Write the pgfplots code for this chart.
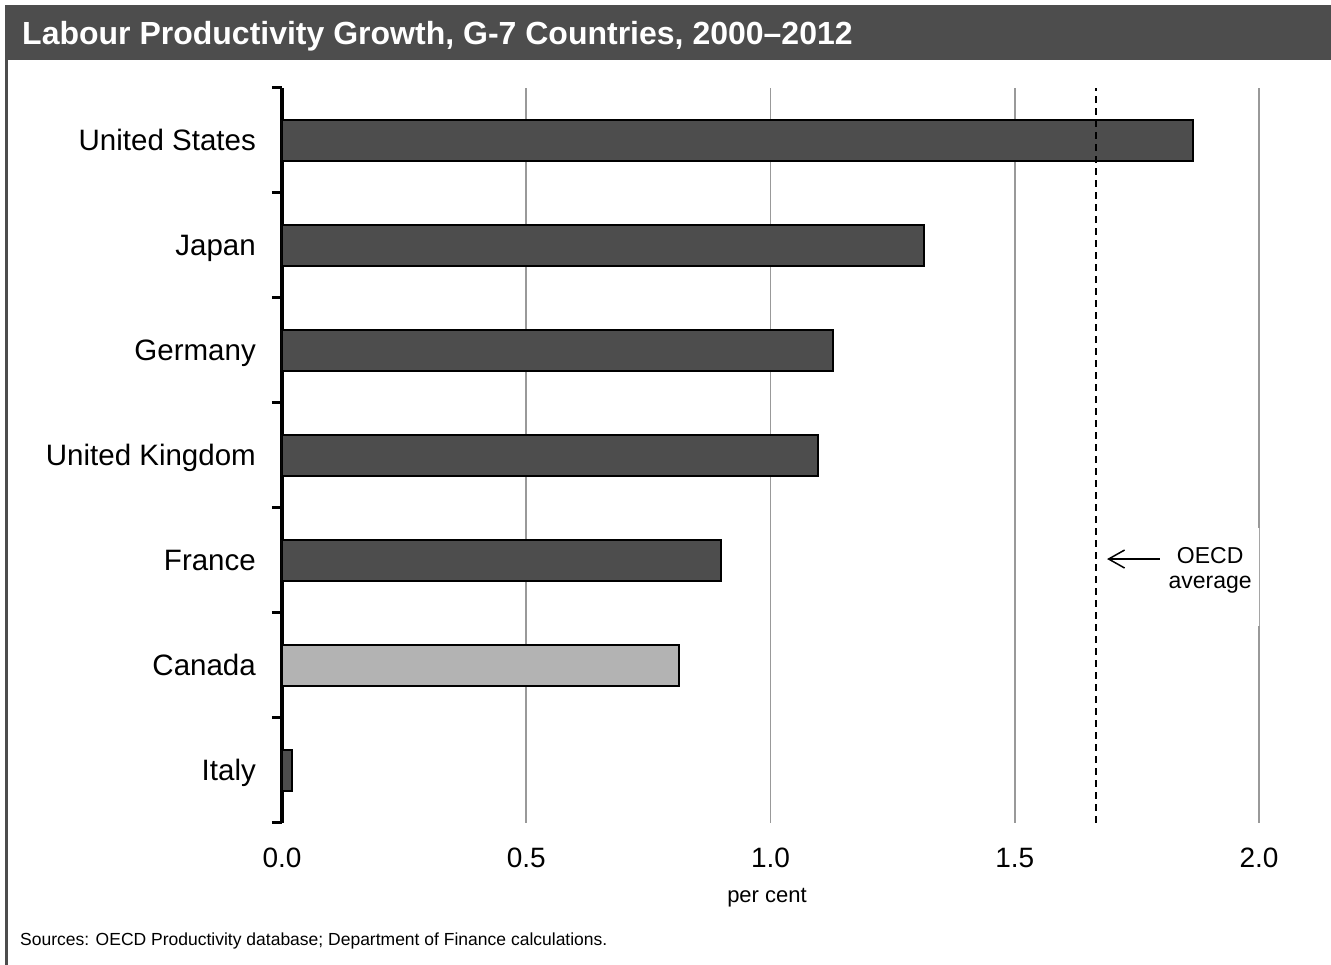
\documentclass[border=0pt]{standalone}
\usepackage{fontspec}
\setmainfont{Liberation Sans}
\usepackage{pgfplots}
\pgfplotsset{compat=1.18}
\usetikzlibrary{arrows.meta}
\definecolor{bardark}{HTML}{4D4D4D}
\definecolor{barlight}{HTML}{B3B3B3}
\definecolor{gridgray}{HTML}{999999}
\begin{document}
\begin{tikzpicture}
\useasboundingbox (0pt,0pt) rectangle (1331pt,965pt);
\fill[bardark] (5pt,905pt) rectangle (1331pt,960pt);
\draw[bardark, line width=3pt] (6.5pt,0pt) -- (6.5pt,905pt);
\node[anchor=base west, text=white, font=\fontsize{32}{36}\selectfont\bfseries, inner sep=0pt] at (22pt,920pt) {Labour Productivity Growth, G-7 Countries, 2000--2012};
\begin{axis}[
  at={(282pt,142pt)}, anchor=south west,
  scale only axis, width=977pt, height=735pt,
  xmin=0, xmax=2, ymin=-0.5, ymax=6.5,
  axis lines*=left,
  x axis line style={draw=none},
  y axis line style={line width=3pt, black},
  xtick={0,0.5,1,1.5,2},
  xticklabels={0.0,0.5,1.0,1.5,2.0},
  major tick length=0pt,
  major x tick style={draw=none},
  major y tick style={draw=none},
  ytick={0,1,2,3,4,5,6},
  yticklabels={Italy,Canada,France,United Kingdom,Germany,Japan,United States},
  minor ytick={-0.5,0.5,1.5,2.5,3.5,4.5,5.5,6.5},
  minor tick length=10pt,
  minor y tick style={line width=3pt, black},
  tick align=outside,
  xmajorgrids,
  grid style={gridgray, line width=1.8pt},
  xticklabel style={font=\fontsize{28}{32}\selectfont, inner sep=0pt, anchor=north, yshift=-25pt},
  yticklabel style={font=\fontsize{29.5}{32}\selectfont, inner sep=0pt, anchor=east, text height=21pt, text depth=0pt, xshift=-26pt},
]
\addplot[xbar, bar width=41pt, bar shift=0pt, fill=bardark, draw=black, line width=1.5pt]
  coordinates {(0.02,0) (0.899,2) (1.097,3) (1.128,4) (1.314,5) (1.865,6)};
\addplot[xbar, bar width=41pt, bar shift=0pt, fill=barlight, draw=black, line width=1.5pt]
  coordinates {(0.813,1)};
\draw[black, line width=1.5pt, dash pattern=on 7pt off 5pt] (axis cs:1.666,-0.5) -- (axis cs:1.666,6.5);
\node[fill=white, minimum width=110pt, minimum height=98pt, inner sep=0pt] at (axis cs:1.90,1.843) {};
\node[align=center, font=\fontsize{23}{25}\selectfont, inner sep=0pt] at (axis cs:1.90,1.91) {OECD\\average};
\draw[line width=1.5pt, -{Straight Barb[length=16pt,width=18pt]}] (axis cs:1.797,2.014) -- (axis cs:1.689,2.014);
\end{axis}
\node[font=\fontsize{22}{26}\selectfont, anchor=base, inner sep=0pt] at (767pt,62pt) {per cent};
\node[anchor=base west, inner sep=0pt, font=\fontsize{17.5}{20}\selectfont] at (20pt,19pt) {Sources: OECD Productivity database; Department of Finance calculations.};
\end{tikzpicture}
\end{document}
